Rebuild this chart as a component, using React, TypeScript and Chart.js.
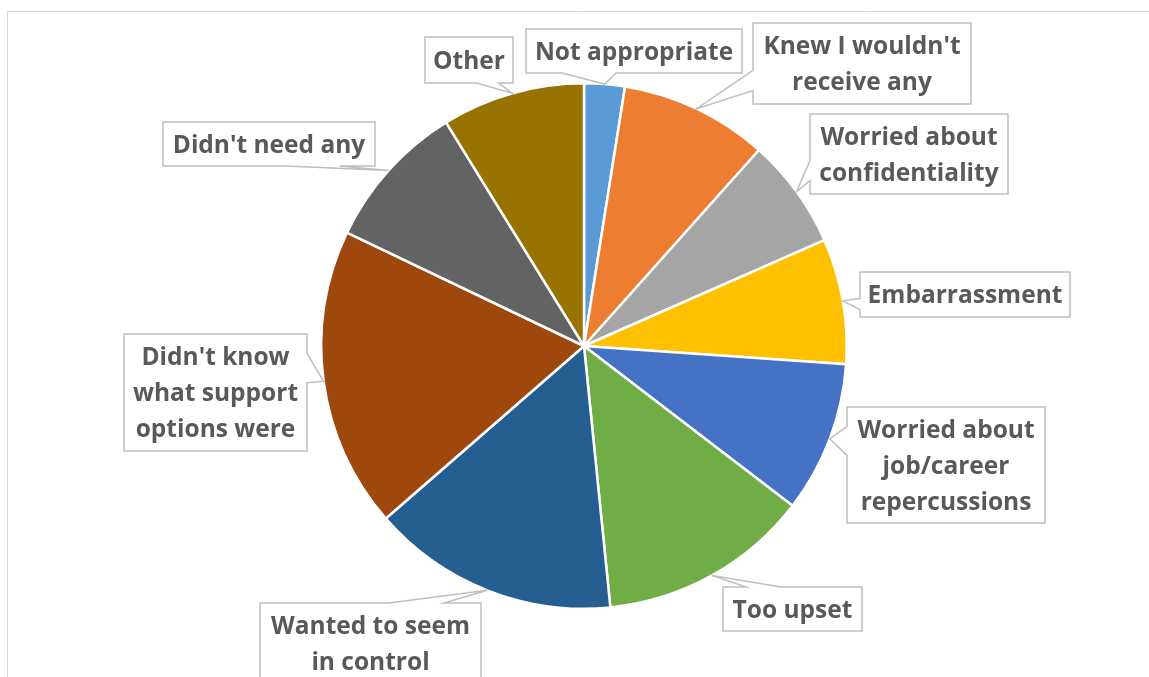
import React, { useEffect, useRef } from "react";
import { Chart, registerables } from "chart.js";

Chart.register(...registerables);

// ---- data ----
const CATEGORIES = [
  "Not appropriate",
  "Knew I wouldn't receive any",
  "Worried about confidentiality",
  "Embarrassment",
  "Worried about job/career repercussions",
  "Too upset",
  "Wanted to seem in control",
  "Didn't know what support options were",
  "Didn't need any",
  "Other",
];

const LABEL_LINES = [
  ["Not appropriate"],
  ["Knew I wouldn't", "receive any"],
  ["Worried about", "confidentiality"],
  ["Embarrassment"],
  ["Worried about", "job/career", "repercussions"],
  ["Too upset"],
  ["Wanted to seem", "in control"],
  ["Didn't know", "what support", "options were"],
  ["Didn't need any"],
  ["Other"],
];

const VALUES = [2.5, 9.1, 6.8, 7.7, 9.3, 13.0, 15.2, 18.5, 9.1, 8.8];

const COLORS = [
  "#5B9BD5",
  "#ED7D31",
  "#A5A5A5",
  "#FFC000",
  "#4472C4",
  "#70AD47",
  "#255E91",
  "#9E480E",
  "#636363",
  "#997300",
];

// ---- label callout layout (box left/top relative to pie centre, width, height) ----
const LABEL_LAYOUT: [number, number, number, number][] = [
  [-58, -317, 216, 44],
  [169, -323, 218, 81],
  [226, -232, 198, 80],
  [276, -74, 210, 45],
  [263, 61, 198, 116],
  [139, 241, 139, 44],
  [-324, 257, 221, 81],
  [-460, -12, 183, 117],
  [-421, -224, 212, 44],
  [-159, -309, 88, 46],
];

const FONT = "bold 24.5px 'Open Sans'";
const LINE_H = 36;
const CAP_H = 17.6;

function calloutPath(
  ctx: CanvasRenderingContext2D,
  l: number,
  t: number,
  w: number,
  h: number,
  tx: number,
  ty: number
) {
  const r = l + w;
  const b = t + h;
  const hc = l + w / 2;
  const vc = t + h / 2;
  const dxPos = tx - hc;
  const dyPos = ty - vc;
  const dq = (dxPos * h) / w;
  const vertical = Math.abs(dyPos) > Math.abs(dq);
  const x1 = l + (w * (dxPos > 0 ? 7 : 2)) / 12;
  const x2 = l + (w * (dxPos > 0 ? 10 : 5)) / 12;
  const y1 = t + (h * (dyPos > 0 ? 7 : 2)) / 12;
  const y2 = t + (h * (dyPos > 0 ? 10 : 5)) / 12;
  ctx.beginPath();
  ctx.moveTo(l, t);
  if (vertical && dyPos < 0) {
    ctx.lineTo(x1, t);
    ctx.lineTo(tx, ty);
    ctx.lineTo(x2, t);
  }
  ctx.lineTo(r, t);
  if (!vertical && dxPos > 0) {
    ctx.lineTo(r, y1);
    ctx.lineTo(tx, ty);
    ctx.lineTo(r, y2);
  }
  ctx.lineTo(r, b);
  if (vertical && dyPos > 0) {
    ctx.lineTo(x2, b);
    ctx.lineTo(tx, ty);
    ctx.lineTo(x1, b);
  }
  ctx.lineTo(l, b);
  if (!vertical && dxPos < 0) {
    ctx.lineTo(l, y2);
    ctx.lineTo(tx, ty);
    ctx.lineTo(l, y1);
  }
  ctx.closePath();
}

const framePlugin = {
  id: "frame",
  beforeDraw(chart: any) {
    const ctx = chart.ctx as CanvasRenderingContext2D;
    ctx.save();
    ctx.fillStyle = "#ffffff";
    ctx.fillRect(0, 0, chart.width, chart.height);
    ctx.strokeStyle = "#d9d9d9";
    ctx.lineWidth = 1;
    ctx.beginPath();
    ctx.moveTo(7.5, chart.height + 2);
    ctx.lineTo(7.5, 11.5);
    ctx.lineTo(chart.width + 2, 11.5);
    ctx.stroke();
    ctx.restore();
  },
};

const calloutPlugin = {
  id: "callouts",
  afterDraw(chart: any) {
    const ctx = chart.ctx as CanvasRenderingContext2D;
    const meta = chart.getDatasetMeta(0);
    ctx.save();
    meta.data.forEach((arc: any, i: number) => {
      const { x, y, startAngle, endAngle, outerRadius } = arc.getProps(
        ["x", "y", "startAngle", "endAngle", "outerRadius"],
        true
      );
      const mid = (startAngle + endAngle) / 2;
      const tx = x + Math.cos(mid) * outerRadius;
      const ty = y + Math.sin(mid) * outerRadius;
      const [dl, dt, w, h] = LABEL_LAYOUT[i];
      const l = x + dl;
      const t = y + dt;
      calloutPath(ctx, l, t, w, h, tx, ty);
      ctx.fillStyle = "#ffffff";
      ctx.fill();
      ctx.strokeStyle = "#bfbfbf";
      ctx.lineWidth = 1.5;
      ctx.lineJoin = "miter";
      ctx.stroke();

      const lines = LABEL_LINES[i];
      ctx.font = FONT;
      ctx.fillStyle = "#595959";
      ctx.textAlign = "center";
      ctx.textBaseline = "alphabetic";
      const cxBox = l + w / 2;
      const cyBox = t + h / 2;
      lines.forEach((line, k) => {
        const by = cyBox + (k - (lines.length - 1) / 2) * LINE_H + CAP_H / 2;
        ctx.fillText(line, cxBox, by);
      });
    });
    ctx.restore();
  },
};

export default function App() {
  const canvasRef = useRef<HTMLCanvasElement | null>(null);

  useEffect(() => {
    if (!canvasRef.current) return;
    const chart = new Chart(canvasRef.current, {
      type: "pie",
      data: {
        labels: CATEGORIES,
        datasets: [
          {
            data: VALUES,
            backgroundColor: COLORS,
            borderColor: "#ffffff",
            borderWidth: 2.5,
          },
        ],
      },
      options: {
        animation: false,
        responsive: true,
        maintainAspectRatio: false,
        layout: {
          padding: { left: 320, right: 301, top: 82, bottom: 67 },
        },
        plugins: {
          legend: { display: false },
          tooltip: { enabled: false },
        },
      },
      plugins: [framePlugin, calloutPlugin],
    });
    return () => chart.destroy();
  }, []);

  return (
    <div
      style={{
        position: "fixed",
        left: 0,
        top: 0,
        width: "1149px",
        height: "677px",
        background: "#ffffff",
      }}
    >
      <canvas ref={canvasRef} />
    </div>
  );
}
